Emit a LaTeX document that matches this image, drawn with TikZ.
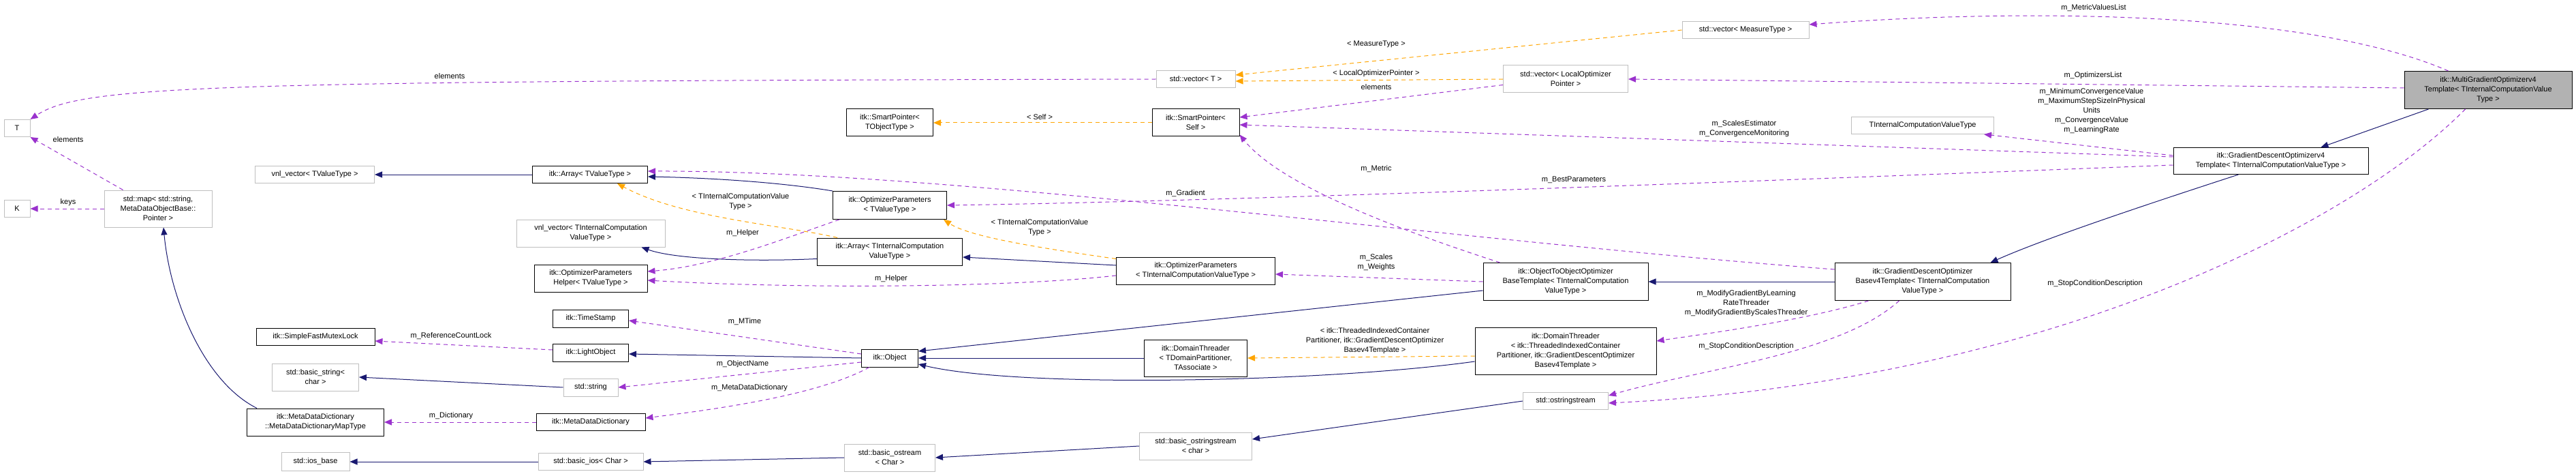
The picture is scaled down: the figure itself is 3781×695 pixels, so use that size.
\documentclass[tikz,border=0pt]{standalone}
\usepackage{fontspec}
\setmainfont{Liberation Sans}
\usetikzlibrary{arrows.meta,calc}
\definecolor{navy}{HTML}{191970}
\definecolor{purp}{HTML}{9A32CD}
\definecolor{orng}{HTML}{FFA500}
\definecolor{gbord}{HTML}{BFBFBF}
\tikzset{
  x=1pt,y=-1pt,
  box/.style={draw=black,line width=1pt,rectangle,inner sep=0pt,align=center,font=\fontsize{11}{14}\selectfont},
  gbox/.style={box,draw=gbord},
  lbl/.style={inner sep=0pt,align=center,font=\fontsize{11}{14}\selectfont},
  tip/.style={-{Triangle[length=11pt,width=9pt]}},
  inh/.style={tip,draw=navy,line width=1pt},
  use/.style={tip,draw=purp,line width=1pt,dash pattern=on 6pt off 5pt},
  tpl/.style={tip,draw=orng,line width=1pt,dash pattern=on 6pt off 5pt},
}
\newcommand{\nd}[7]{\node[#6,minimum width=#4pt,minimum height=#5pt] (#1) at (#2,#3) {#7};}
\begin{document}
\begin{tikzpicture}
\useasboundingbox (0,0) rectangle (3781,695);
\nd{T}{25}{188}{38}{25}{gbox}{T}
\nd{K}{25}{306}{38}{25}{gbox}{K}
\nd{map}{232}{306}{158}{54}{gbox}{std::map< std::string,\\ MetaDataObjectBase::\\ Pointer >}
\nd{vnlV}{462}{256}{175}{25}{gbox}{vnl\_vector< TValueType >}
\nd{arrV}{866}{256}{169}{25}{box}{itk::Array< TValueType >}
\nd{vnlI}{867}{342}{218}{40}{gbox}{vnl\_vector< TInternalComputation\\ValueType >}
\nd{help}{867}{408}{166}{40}{box}{itk::OptimizerParameters\\Helper< TValueType >}
\nd{ts}{867}{467}{111}{26}{box}{itk::TimeStamp}
\nd{mutex}{463}{494}{174}{25}{box}{itk::SimpleFastMutexLock}
\nd{light}{867}{517}{111}{26}{box}{itk::LightObject}
\nd{bstr}{463}{553}{127}{40}{gbox}{std::basic\_string<\\ char >}
\nd{str}{867}{568}{80}{26}{gbox}{std::string}
\nd{mapT}{463}{619}{201}{40}{box}{itk::MetaDataDictionary\\::MetaDataDictionaryMapType}
\nd{mdd}{867}{619}{160}{25}{box}{itk::MetaDataDictionary}
\nd{iosb}{463}{677}{100}{27}{gbox}{std::ios\_base}
\nd{bios}{867}{677}{154}{25}{gbox}{std::basic\_ios< Char >}
\nd{vecT}{1755}{116}{116}{25}{gbox}{std::vector< T >}
\nd{spT}{1306}{180}{127}{40}{box}{itk::SmartPointer<\\ TObjectType >}
\nd{spS}{1755}{180}{128}{40}{box}{itk::SmartPointer<\\ Self >}
\nd{opV}{1306}{301}{167}{41}{box}{itk::OptimizerParameters\\< TValueType >}
\nd{arrI}{1306}{369}{213}{40}{box}{itk::Array< TInternalComputation\\ValueType >}
\nd{opI}{1755}{397}{233}{40}{box}{itk::OptimizerParameters\\< TInternalComputationValueType >}
\nd{obj}{1306}{525}{83}{26}{box}{itk::Object}
\nd{dtT}{1755}{525}{151}{54}{box}{itk::DomainThreader\\< TDomainPartitioner,\\ TAssociate >}
\nd{bos}{1306}{671}{133}{40}{gbox}{std::basic\_ostream\\< Char >}
\nd{boss}{1755}{654}{165}{40}{gbox}{std::basic\_ostringstream\\< char >}
\nd{vecM}{2562}{44}{186}{25}{gbox}{std::vector< MeasureType >}
\nd{vecL}{2298}{116}{183}{40}{gbox}{std::vector< LocalOptimizer\\Pointer >}
\nd{tic}{2822}{184}{209}{25}{gbox}{TInternalComputationValueType}
\nd{o2o}{2298}{413}{242}{55}{box}{itk::ObjectToObjectOptimizer\\BaseTemplate< TInternalComputation\\ValueType >}
\nd{dtI}{2298}{515}{266}{69}{box}{itk::DomainThreader\\< itk::ThreadedIndexedContainer\\Partitioner, itk::GradientDescentOptimizer\\Basev4Template >}
\nd{oss}{2298}{588}{125}{25}{gbox}{std::ostringstream}
\nd{gdb}{2822}{413}{258}{55}{box}{itk::GradientDescentOptimizer\\Basev4Template< TInternalComputation\\ValueType >}
\nd{mgo}{3652}{132}{246}{55}{box,fill=gray!60}{itk::MultiGradientOptimizerv4\\Template< TInternalComputationValue\\Type >}
\nd{gdo}{3333}{236}{286}{39}{box}{itk::GradientDescentOptimizerv4\\Template< TInternalComputationValueType >}
% edges
\draw[use] (vecT.west) .. controls (300,119) and (120,125) .. (T.north east);
\draw[use] ($(map.north west)+(28,0)$) -- (T.south east);
\draw[use] (map.west) -- (K.east);
\draw[inh] ($(mapT.north west)+(15,0)$) .. controls (300,560) and (250,440) .. ($(map.south)+(8,0)$);
\draw[inh] (arrV.west) -- (vnlV.east);
\draw[inh] ($(arrI.south west)+(0,-10)$) .. controls (1100,384) and (990,380) .. ($(vnlI.south east)+(-35,0)$);
\draw[inh] (opV.north west) .. controls (1150,268) and (1050,261) .. ($(arrV.east)+(0,3)$);
\draw[use] ($(opV.south west)+(10,0)$) .. controls (1150,350) and (1050,390) .. ($(help.east)+(0,-10)$);
\draw[use] ($(opI.west)+(0,7)$) .. controls (1500,420) and (1200,425) .. ($(help.east)+(0,3)$);
\draw[inh] ($(opI.west)+(0,-8)$) -- ($(arrI.east)+(0,8)$);
\draw[tpl] ($(opI.north west)+(0,3)$) .. controls (1500,360) and (1420,345) .. ($(opV.south east)+(-5,0)$);
\draw[tpl] ($(arrI.north west)+(30,0)$) .. controls (1150,330) and (1000,320) .. ($(arrV.south east)+(-45,0)$);
\draw[tpl] (spS.west) -- (spT.east);
\draw[tpl] (vecM.west) -- ($(vecT.east)+(0,-6)$);
\draw[tpl] (vecL.west) -- ($(vecT.east)+(0,3)$);
\draw[use] ($(vecL.south west)+(0,-12)$) -- ($(spS.east)+(0,-8)$);
\draw[use] ($(gdo.west)+(0,-6)$) -- ($(spS.east)+(0,3)$);
\draw[use] ($(o2o.north west)+(25,0)$) .. controls (2000,320) and (1870,260) .. ($(spS.south east)+(0,-3)$);
\draw[use] ($(gdo.west)+(0,6)$) .. controls (2600,265) and (1800,295) .. (opV.east);
\draw[use] ($(gdb.north west)+(0,10)$) .. controls (2100,350) and (1400,250) .. ($(arrV.east)+(0,-5)$);
\draw[use] ($(gdo.north west)+(0,12)$) -- ($(tic.south east)+(-15,0)$);
\draw[inh] ($(mgo.south west)+(36,0)$) -- ($(gdo.north east)+(-70,0)$);
\draw[inh] ($(gdo.south west)+(96,0)$) .. controls (3150,300) and (3000,350) .. ($(gdb.north east)+(-30,0)$);
\draw[inh] (gdb.west) -- (o2o.east);
\draw[use] ($(gdb.south west)+(50,0)$) .. controls (2650,470) and (2500,490) .. ($(dtI.east)+(0,-15)$);
\draw[use] ($(gdb.south west)+(95,0)$) .. controls (2700,520) and (2500,540) .. ($(oss.east)+(0,-8)$);
\draw[use] ($(mgo.south west)+(90,0)$) .. controls (3450,330) and (3000,560) .. ($(oss.east)+(0,3)$);
\draw[use] ($(mgo.north west)+(65,0)$) .. controls (3400,20) and (3000,10) .. ($(vecM.east)+(0,-8)$);
\draw[use] ($(mgo.west)+(0,-3)$) -- (vecL.east);
\draw[use] (o2o.west) -- ($(opI.east)+(0,5)$);
\draw[inh] ($(o2o.south west)+(0,-15)$) -- ($(obj.east)+(0,-10)$);
\draw[inh] ($(dtI.south west)+(0,-20)$) .. controls (1950,560) and (1500,570) .. ($(obj.east)+(0,9)$);
\draw[inh] (dtT.west) -- (obj.east);
\draw[tpl] ($(dtI.west)+(0,7)$) -- (dtT.east);
\draw[use] ($(obj.west)+(0,-6)$) -- ($(ts.east)+(0,3)$);
\draw[inh] (obj.west) -- ($(light.east)+(0,2)$);
\draw[use] ($(light.west)+(0,-4)$) -- ($(mutex.east)+(0,6)$);
\draw[use] ($(obj.west)+(0,6)$) -- (str.east);
\draw[use] ($(obj.south west)+(12,0)$) .. controls (1200,580) and (1050,600) .. ($(mdd.east)+(0,-6)$);
\draw[use] (mdd.west) -- (mapT.east);
\draw[inh] (str.west) -- (bstr.east);
\draw[inh] (bios.west) -- (iosb.east);
\draw[inh] (bos.west) -- (bios.east);
\draw[inh] (boss.west) -- (bos.east);
\draw[inh] (oss.west) -- ($(boss.east)+(0,-10)$);
% labels
\node[lbl] (l1) at (660,112) {elements};
\node[lbl] (l2) at (100,205) {elements};
\node[lbl] (l3) at (100,297) {keys};
\node[lbl] (l4) at (1090,342) {m\_Helper};
\node[lbl] (l5) at (1308,409) {m\_Helper};
\node[lbl] (l6) at (1526,334) {< TInternalComputationValue\\Type >};
\node[lbl] (l7) at (1087,296) {< TInternalComputationValue\\Type >};
\node[lbl] (l8) at (1526,172) {< Self >};
\node[lbl] (l9) at (2020,65) {< MeasureType >};
\node[lbl] (l10) at (2020,108) {< LocalOptimizerPointer >};
\node[lbl] (l11) at (2020,128) {elements};
\node[lbl] (l12) at (2560,189) {m\_ScalesEstimator\\m\_ConvergenceMonitoring};
\node[lbl] (l13) at (2020,248) {m\_Metric};
\node[lbl] (l14) at (2310,264) {m\_BestParameters};
\node[lbl] (l15) at (1740,284) {m\_Gradient};
\node[lbl] (l16) at (3070,163) {m\_MinimumConvergenceValue\\m\_MaximumStepSizeInPhysical\\Units\\m\_ConvergenceValue\\m\_LearningRate};
\node[lbl] (l17) at (2563,445) {m\_ModifyGradientByLearning\\RateThreader\\m\_ModifyGradientByScalesThreader};
\node[lbl] (l18) at (2563,508) {m\_StopConditionDescription};
\node[lbl] (l19) at (3075,416) {m\_StopConditionDescription};
\node[lbl] (l20) at (3073,12) {m\_MetricValuesList};
\node[lbl] (l21) at (3072,111) {m\_OptimizersList};
\node[lbl] (l22) at (2020,385) {m\_Scales\\m\_Weights};
\node[lbl] (l23) at (2018,500) {< itk::ThreadedIndexedContainer\\Partitioner, itk::GradientDescentOptimizer\\Basev4Template >};
\node[lbl] (l24) at (1093,472) {m\_MTime};
\node[lbl] (l25) at (662,493) {m\_ReferenceCountLock};
\node[lbl] (l26) at (1090,534) {m\_ObjectName};
\node[lbl] (l27) at (1100,569) {m\_MetaDataDictionary};
\node[lbl] (l28) at (662,610) {m\_Dictionary};
\end{tikzpicture}
\end{document}
